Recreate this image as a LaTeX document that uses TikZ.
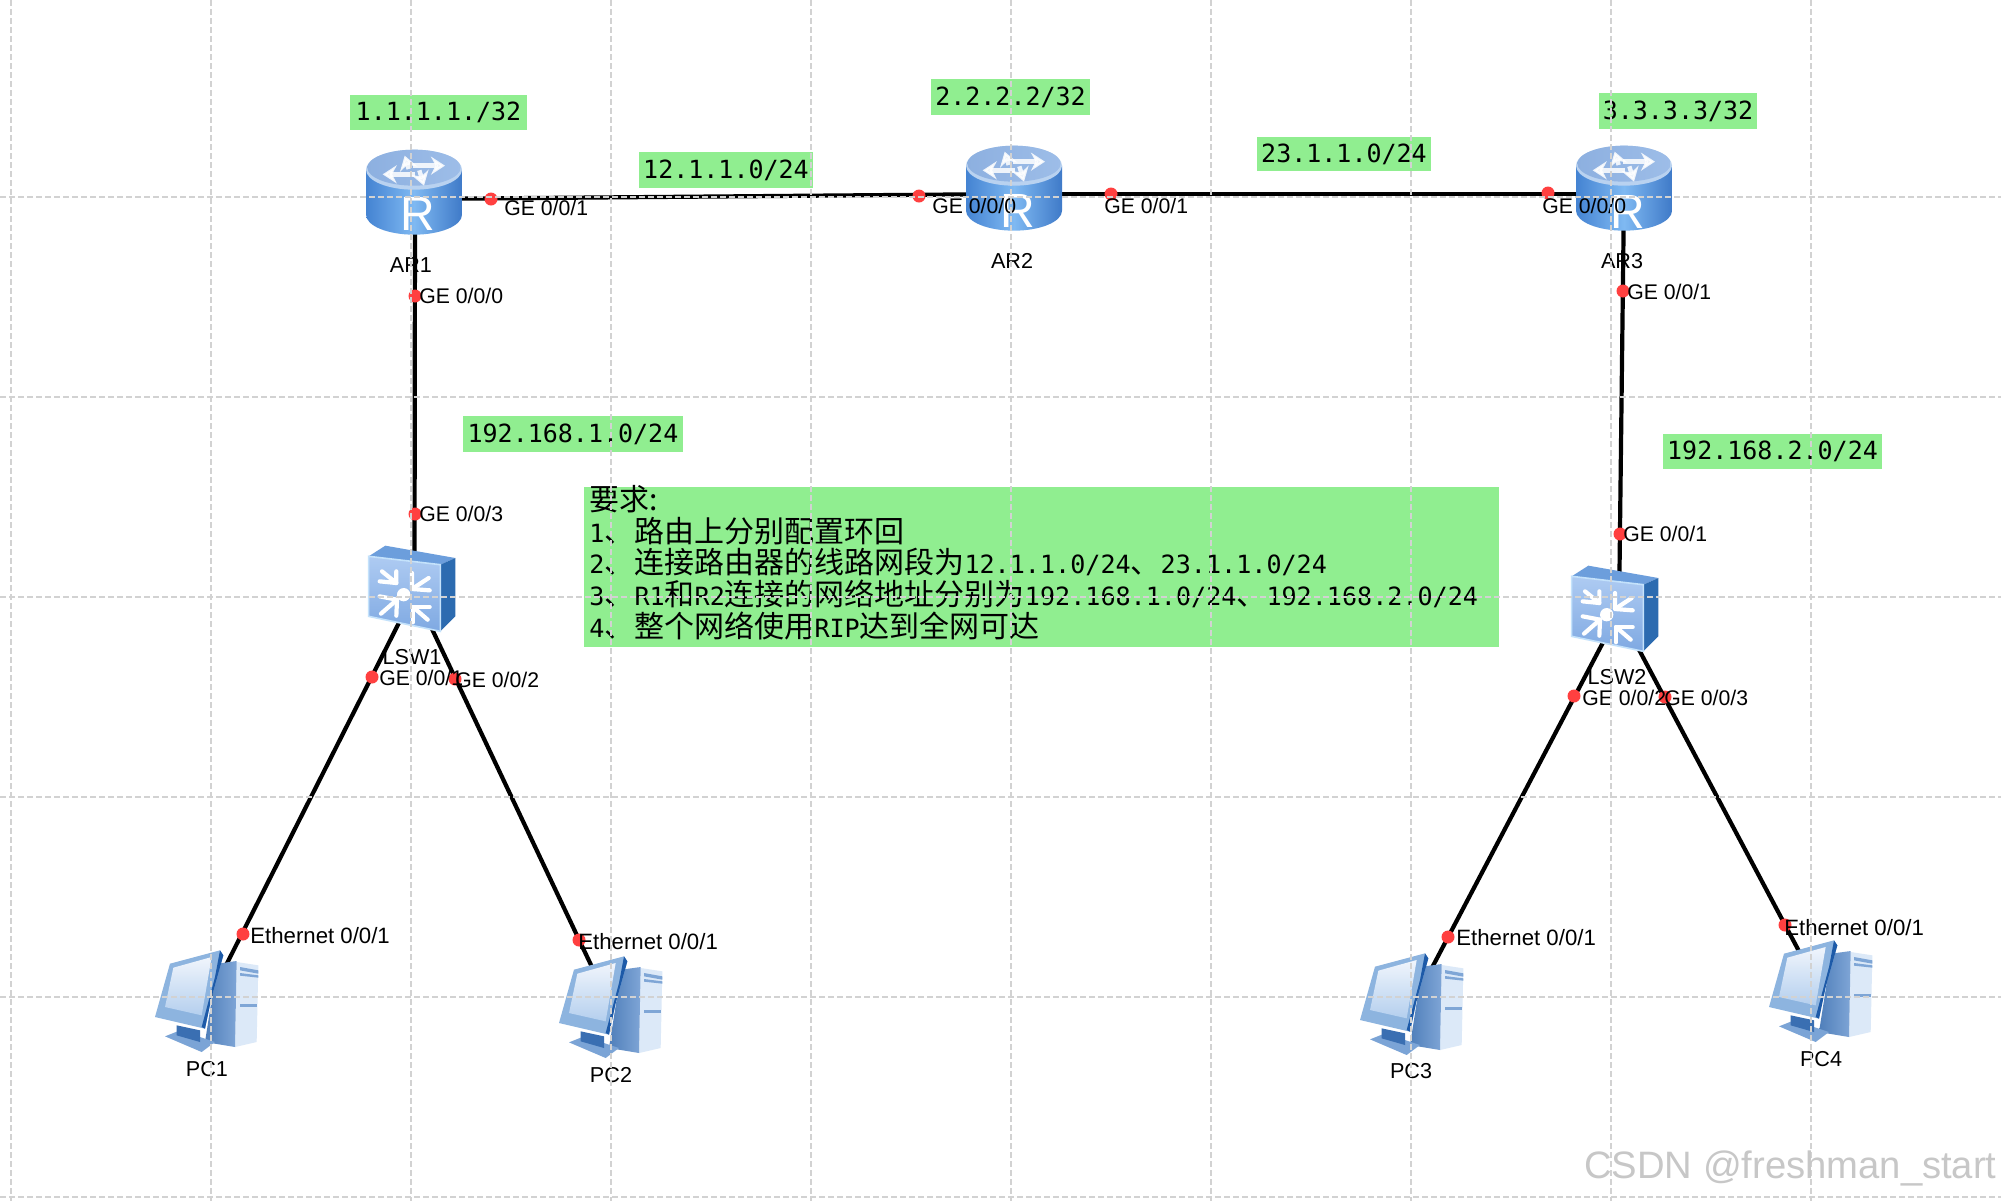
\documentclass[tikz,border=0pt]{standalone}
\usepackage{fontspec}
\usetikzlibrary{arrows.meta}
\setmainfont{Liberation Sans}
\newfontfamily\cjk{Noto Sans CJK SC}
\newfontfamily\mn{DejaVu Sans Mono}
\definecolor{gridc}{HTML}{D2D2D2}
\definecolor{boxg}{HTML}{90EE90}
\definecolor{dotr}{HTML}{FF4040}
\definecolor{rSide}{HTML}{4483D2}
\definecolor{rMid}{HTML}{7FB9F2}
\definecolor{rSideB}{HTML}{3F7AC8}
\definecolor{rTop}{HTML}{8DB0E0}
\definecolor{rTopB}{HTML}{9DBDE8}
\definecolor{rRim}{HTML}{B9D2F0}
\definecolor{sFrontA}{HTML}{AECBF2}
\definecolor{sFrontB}{HTML}{7FA9E2}
\definecolor{sTop}{HTML}{6C9EDC}
\definecolor{sRight}{HTML}{2C6BB0}
\definecolor{sEdge}{HTML}{C4E2FB}
\definecolor{pTower}{HTML}{DCE9F8}
\definecolor{pDarkA}{HTML}{4F7FBA}
\definecolor{pDarkB}{HTML}{7FA5D6}
\definecolor{pStripe}{HTML}{7FA6D6}
\definecolor{pBase}{HTML}{7BA4D6}
\definecolor{pNeck}{HTML}{3A6FB2}
\definecolor{pFrame}{HTML}{8DB4DF}
\definecolor{pEdge}{HTML}{1D5AA8}
\definecolor{pScrA}{HTML}{F0F5FC}
\definecolor{pScrB}{HTML}{B4CFEE}
\tikzset{
 gridline/.style={gridc,line width=1pt,dash pattern=on 3pt off 1.5pt},
 link/.style={black,line width=2.1pt},
 port/.style={circle,fill=dotr,inner sep=0pt,minimum size=6.5pt},
 lab/.style={anchor=west,inner sep=0pt,font=\fontsize{10.6}{12}\selectfont,text=black},
 ethlab/.style={anchor=west,inner sep=0pt,font=\fontsize{11.1}{12}\selectfont,text=black},
 devname/.style={inner sep=0pt,font=\fontsize{10.8}{12}\selectfont,text=black},
 net/.style={fill=boxg,inner sep=0pt,font=\fontsize{12.5}{14}\mn\selectfont,text=black},
 anchorbox/.style={inner sep=0pt,minimum width=48pt,minimum height=42pt},
 reqline/.style={anchor=west,inner sep=0pt,font=\fontsize{15}{17}\cjk\selectfont},
 bigr/.style={inner sep=0pt,font=\fontsize{24}{24}\selectfont,text=white},
 arw/.style={white,line width=2.1pt,line cap=round,line join=round},
 rarw/.style={white,opacity=.85,line width=2.2pt,-{Stealth[length=7pt,width=9pt]}},
 pic unit/.style={x=.16667pt,y=-.16667pt},
 router/.pic={
  \begin{scope}[pic unit,shift={(-252,-340)}]
   \shade[left color=rSide,right color=rSideB,middle color=rMid]
     (108,270) -- (108,405) arc[start angle=180,end angle=0,x radius=144,y radius=60] -- (396,270) -- cycle;
   \fill[rRim] (252,270) ellipse[x radius=144,y radius=60];
   \shade[left color=rTop,right color=rTopB] (252,264) ellipse[x radius=140,y radius=54];
   \draw[rarw] (236,268) -- (224,228);
   \draw[rarw] (250,258) -- (345,258);
   \draw[rarw] (256,284) -- (158,284);
   \draw[rarw] (268,272) -- (282,318);
  \end{scope}
 },
 switchicon/.pic={
  \begin{scope}[pic unit,shift={(-215,-265)}]
   \fill[sTop] (85,170) -- (135,138) -- (345,175) -- (300,195) -- cycle;
   \fill[sRight] (300,195) -- (345,175) -- (345,350) -- (300,395) -- cycle;
   \shade[top color=sFrontA,bottom color=sFrontB,draw=sEdge,line width=.8pt] (85,170) -- (300,195) -- (300,395) -- (85,350) -- cycle;
   \draw[arw] (125,215) -- (168,250); \draw[arw] (168,215) -- (168,250) -- (118,245);
   \draw[arw] (265,235) -- (215,268); \draw[arw] (215,220) -- (215,268) -- (268,272);
   \draw[arw] (122,342) -- (170,300); \draw[arw] (118,290) -- (170,300) -- (168,348);
   \draw[arw] (262,360) -- (218,322); \draw[arw] (268,322) -- (218,322) -- (218,368);
   \fill[white] (190,285) circle[radius=20];
  \end{scope}
 },
 pcicon/.pic={
  \begin{scope}[pic unit,shift={(-240,-260)}]
   \fill[pTower] (320,155) -- (385,165) -- (380,395) -- (315,410) -- cycle;
   \shade[left color=pDarkA,right color=pDarkB] (262,160) -- (320,152) -- (315,410) -- (225,395) -- cycle;
   \fill[pStripe] (330,170) -- (385,180) -- (385,190) -- (330,180) -- cycle;
   \fill[pStripe] (330,188) -- (385,195) -- (385,202) -- (330,196) -- cycle;
   \fill[pStripe] (330,282) -- (380,282) -- (380,290) -- (330,290) -- cycle;
   \fill[pBase] (105,378) -- (150,360) -- (255,395) -- (215,425) -- cycle;
   \fill[pNeck] (140,345) -- (210,360) -- (210,395) -- (140,375) -- cycle;
   \fill[pFrame] (120,160) -- (270,120) -- (280,135) -- (245,260) -- (225,355) -- (75,320) -- cycle;
   \shade[top color=pScrA,bottom color=pScrB] (130,172) -- (245,140) -- (215,315) -- (105,290) -- cycle;
   \fill[pEdge] (270,120) -- (280,135) -- (245,260) -- (225,355) -- (215,350) -- (255,200) -- cycle;
  \end{scope}
 }
}
\begin{document}
\begin{tikzpicture}[x=.5pt,y=-.5pt]
\useasboundingbox (0,0) rectangle (2001,1201);
\fill[white] (0,0) rectangle (2001,1201);
% anchors of devices
\node[anchorbox] (AR1) at (415,199) {};
\node[anchorbox] (AR2) at (1014,194) {};
\node[anchorbox] (AR3) at (1624,194) {};
\node[anchorbox] (LSW1) at (414.5,592) {};
\node[anchorbox] (LSW2) at (1619,612) {};
\node[anchorbox] (PC1) at (210,997) {};
\node[anchorbox] (PC2) at (609,1003) {};
\node[anchorbox] (PC3) at (1415,1000) {};
\node[anchorbox] (PC4) at (1818,987) {};
% links
\draw[link] (AR1.center) -- (AR2.center);
\draw[link] (AR2.center) -- (AR3.center);
\draw[link] (AR1.center) -- (LSW1.center);
\draw[link] (AR3.center) -- (LSW2.center);
\draw[link] (LSW1.center) -- (PC1.center);
\draw[link] (LSW1.center) -- (PC2.center);
\draw[link] (LSW2.center) -- (PC3.center);
\draw[link] (LSW2.center) -- (PC4.center);
% icons
\pic at (414,193) {router};
\pic at (1014,189) {router};
\pic at (1624,189) {router};
\node[bigr] (RA) at (418,214) {R};
\node[bigr] (RB) at (1018,211) {R};
\node[bigr] (RC) at (1628,212) {R};
\pic at (412,588) {switchicon};
\pic at (1615,608) {switchicon};
\pic at (210,997) {pcicon};
\pic at (614,1003) {pcicon};
\pic at (1415,1000) {pcicon};
\pic at (1824,987) {pcicon};
% port dots
\foreach \px/\py in {491/199,919/196,1111/194,1548/193,415/296,415/514,1623/291,1620/534,372/677,455/679,243/934,579/940,1574/696,1665/697,1448/937,1785/925}
  \node[port] at (\px,\py) {};
% network labels
\node[net,minimum width=88.5pt,minimum height=17.5pt] (n1) at (438.5,112.5) {1.1.1.1./32};
\node[net,minimum width=87pt,minimum height=18pt] (n2) at (726,170) {12.1.1.0/24};
\node[net,minimum width=79.5pt,minimum height=18pt] (n3) at (1010.5,97) {2.2.2.2/32};
\node[net,minimum width=87pt,minimum height=17pt] (n4) at (1344,154) {23.1.1.0/24};
\node[net,minimum width=79pt,minimum height=18pt] (n5) at (1678,111) {3.3.3.3/32};
\node[net,minimum width=110pt,minimum height=18pt] (n6) at (573,434) {192.168.1.0/24};
\node[net,minimum width=109.5pt,minimum height=17.5pt] (n7) at (1772.5,451.5) {192.168.2.0/24};
% requirements
\node[fill=boxg,inner sep=0pt,minimum width=457.5pt,minimum height=80pt] (req) at (1041.5,566.5) {};
\newcommand{\mm}[1]{{\fontsize{12.55}{14}\mn\selectfont #1}}
\node[reqline] (r0) at (589,499) {要求:};
\node[reqline] (r1) at (589,531) {\mm{1}、路由上分别配置环回};
\node[reqline] (r2) at (589,562) {\mm{2}、连接路由器的线路网段为\mm{12.1.1.0/24}、\mm{23.1.1.0/24}};
\node[reqline] (r3) at (589,594) {\mm{3}、\mm{R1}和\mm{R2}连接的网络地址分别为\mm{192.168.1.0/24}、\mm{192.168.2.0/24}};
\node[reqline] (r4) at (589,626) {\mm{4}、整个网络使用\mm{RIP}达到全网可达};
% device names
\node[devname] (tAR1) at (411,265) {AR1};
\node[devname] (tAR2) at (1012,261) {AR2};
\node[devname] (tAR3) at (1622,261) {AR3};
\node[devname] (tLSW1) at (412,657) {LSW1};
\node[devname] (tLSW2) at (1617,677) {LSW2};
\node[devname] (tPC1) at (207,1069) {PC1};
\node[devname] (tPC2) at (611,1075) {PC2};
\node[devname] (tPC3) at (1411,1071) {PC3};
\node[devname] (tPC4) at (1821,1059) {PC4};
% port labels
\node[lab] (l1) at (504,208) {GE 0/0/1};
\node[lab] (l2) at (419,296) {GE 0/0/0};
\node[lab] (l3) at (419,514) {GE 0/0/3};
\node[lab] (l4) at (379,678) {GE 0/0/1};
\node[lab] (l5) at (455,680) {GE 0/0/2};
\node[lab] (l6) at (932,206) {GE 0/0/0};
\node[lab] (l7) at (1104,206) {GE 0/0/1};
\node[lab] (l8) at (1542,206) {GE 0/0/0};
\node[lab] (l9) at (1627,292) {GE 0/0/1};
\node[lab] (l10) at (1623,534) {GE 0/0/1};
\node[lab] (l11) at (1582,698) {GE 0/0/2};
\node[lab] (l12) at (1664,698) {GE 0/0/3};
\node[ethlab] (l13) at (250,936) {Ethernet 0/0/1};
\node[ethlab] (l14) at (578,942) {Ethernet 0/0/1};
\node[ethlab] (l15) at (1456,938) {Ethernet 0/0/1};
\node[ethlab] (l16) at (1784,928) {Ethernet 0/0/1};
% grid, which lies over everything
\foreach \gx in {11,211,...,1811} \draw[gridline] (\gx,0) -- (\gx,1201);
\foreach \gy in {197,397,...,1197} \draw[gridline] (0,\gy) -- (2001,\gy);
% watermark
\node[anchor=east,inner sep=0pt,font=\fontsize{19.1}{22}\selectfont,text=black!22] (wm) at (1997,1168) {CSDN @freshman\_start};
\end{tikzpicture}
\end{document}
